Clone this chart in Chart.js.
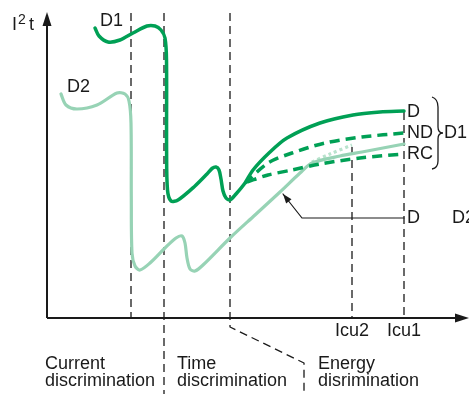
<!DOCTYPE html>
<html>
<head>
<meta charset="utf-8">
<script src="https://cdn.jsdelivr.net/npm/chart.js@4"></script>
<style>
html,body{margin:0;padding:0;background:#fff;}
#wrap{width:469px;height:394px;position:relative;}
</style>
</head>
<body>
<div id="wrap"><canvas id="c"></canvas></div>
<script>
// ---- data (schematic units: x = prospective current, y = I²t) ----
const d1Curve = [[48,290],[52,282],[61,276],[73,278],[86,285],[100,292],[108,292],[114,288],[118,280],[119.5,258],[119.6,168],[120.5,128],[124,117],[131,118],[148,132],[160,144],[165,149.5],[169,151],[172,148],[174,139],[176,127],[179,120],[183,118],[189,124],[198,135],[206,148],[223,166],[240,180],[273,195],[306,203],[333,206],[357,207]];
const d1ND = [[198,135],[221,155],[245,165],[278,175],[315,181],[357,185]];
const d1RC = [[200,136],[221,143],[245,148],[273,154],[313,160],[357,164]];
const d2Curve = [[14,224],[19,213],[30,209],[50,213],[70,225],[78,224],[82,217],[84,195],[84.3,120],[85,65],[88,52],[93,48],[103,55],[118,70],[129,80],[135,82],[138,75],[140,60],[143,49],[148,47],[156,53],[183,80],[208,103],[233,126],[253,145],[265,155],[293,162],[315,166],[357,174]];
const d2Dotted = [[265,156],[283,164],[305,173]];
const arrowPath = [[357,100],[255,100],[236,124]];
const boundaryX = [84,117,183];          // discrimination zone limits
const icuX = [305,357];                   // Icu2, Icu1
const icuTop = [171,206];
const icuLabels = ['Icu2','Icu1'];
const zoneLabels = [['Current','discrimination'],['Time','discrimination'],['Energy','disrimination']];
const zoneLabelX = [-2,130,271];
const curveLabelsD1 = ['D','ND','RC'];

const DARK = '#00a055', LIGHT = '#97d3b5', DOT = '#b9e3cd', INK = '#1a1a1a';
const toPts = a => a.map(p => ({x:p[0], y:p[1]}));

const lineDs = (data, color, width, extra) => Object.assign({
  data: toPts(data), showLine:true, borderColor:color, backgroundColor:color,
  borderWidth:width, pointRadius:0, fill:false, clip:false,
  tension:0.3, borderJoinStyle:'round', borderCapStyle:'round'
}, extra || {});

const dashed = {borderDash:[8,5], tension:0, borderCapStyle:'butt'};

const datasets = [
  lineDs(d1Curve, DARK, 3.5),
  lineDs(d1ND, DARK, 3.5, {borderDash:[10,6], borderCapStyle:'butt'}),
  lineDs(d1RC, DARK, 3.5, {borderDash:[10,6], borderCapStyle:'butt'}),
  lineDs(d2Curve, LIGHT, 3.2),
  lineDs(d2Dotted, DOT, 3.2, {borderDash:[3,3], borderCapStyle:'butt'}),
  lineDs(arrowPath, INK, 1.2, {tension:0, borderJoinStyle:'miter'}),
  lineDs([[boundaryX[0],305],[boundaryX[0],0]], INK, 1.3, dashed),
  lineDs([[boundaryX[1],305],[boundaryX[1],-76]], INK, 1.3, dashed),
  lineDs([[boundaryX[2],305],[boundaryX[2],-9],[257,-45],[257,-76]], INK, 1.3, dashed),
  lineDs([[icuX[0],icuTop[0]],[icuX[0],0]], INK, 1.3, dashed),
  lineDs([[icuX[1],icuTop[1]],[icuX[1],0]], INK, 1.3, dashed)
];

const decor = {
  id:'decor',
  afterDatasetsDraw(chart){
    const ctx = chart.ctx, xs = chart.scales.x, ys = chart.scales.y;
    const X = v => xs.getPixelForValue(v), Y = v => ys.getPixelForValue(v);
    ctx.save();
    ctx.fillStyle = INK; ctx.strokeStyle = INK;
    // axes
    ctx.lineWidth = 2;
    ctx.beginPath();
    ctx.moveTo(X(0), Y(0)); ctx.lineTo(X(0), Y(296));
    ctx.moveTo(X(0), Y(0)); ctx.lineTo(X(411), Y(0));
    ctx.stroke();
    ctx.beginPath(); // y arrow
    ctx.moveTo(X(0), Y(306)); ctx.lineTo(X(0)-4.5, Y(292)); ctx.lineTo(X(0)+4.5, Y(292)); ctx.closePath(); ctx.fill();
    ctx.beginPath(); // x arrow
    ctx.moveTo(X(422), Y(0)); ctx.lineTo(X(408), Y(0)-4.5); ctx.lineTo(X(408), Y(0)+4.5); ctx.closePath(); ctx.fill();
    // annotation arrowhead
    const a = arrowPath[arrowPath.length-1], b = arrowPath[arrowPath.length-2];
    const ax = X(a[0]), ay = Y(a[1]), bx = X(b[0]), by = Y(b[1]);
    const ang = Math.atan2(ay-by, ax-bx);
    ctx.beginPath();
    ctx.moveTo(ax, ay);
    ctx.lineTo(ax - 10*Math.cos(ang-0.35), ay - 10*Math.sin(ang-0.35));
    ctx.lineTo(ax - 10*Math.cos(ang+0.35), ay - 10*Math.sin(ang+0.35));
    ctx.closePath(); ctx.fill();
    // brace
    ctx.lineWidth = 1.3;
    const bl = X(385), bm = X(391), bt = X(396);
    ctx.beginPath();
    ctx.moveTo(bl, Y(221));
    ctx.quadraticCurveTo(bm, Y(219), bm, Y(211));
    ctx.lineTo(bm, Y(191));
    ctx.quadraticCurveTo(bm, Y(185), bt, Y(185));
    ctx.quadraticCurveTo(bm, Y(185), bm, Y(179));
    ctx.lineTo(bm, Y(157));
    ctx.quadraticCurveTo(bm, Y(150), bl, Y(149));
    ctx.stroke();
    // texts
    ctx.textBaseline = 'middle';
    ctx.textAlign = 'left';
    ctx.font = '18px "Liberation Sans", Arial, sans-serif';
    ctx.fillText('D1', X(53), Y(297));
    ctx.fillText('D2', X(20), Y(231));
    curveLabelsD1.forEach((t,i) => ctx.fillText(t, X(360), Y([206,185,164][i])));
    ctx.fillText('D1', X(397), Y(185));
    ctx.fillText('D', X(360), Y(100));
    ctx.fillText('D2', X(405), Y(100));
    // I²t
    ctx.fillText('I', X(-35), Y(293));
    ctx.fillText('t', X(-18), Y(293));
    ctx.font = '14px "Liberation Sans", Arial, sans-serif';
    ctx.fillText('2', X(-29), Y(298));
    ctx.font = '18px "Liberation Sans", Arial, sans-serif';
    ctx.textAlign = 'center';
    icuLabels.forEach((t,i) => ctx.fillText(t, X(icuX[i]), Y(-13)));
    ctx.textAlign = 'left';
    zoneLabels.forEach((lines,i) => {
      ctx.fillText(lines[0], X(zoneLabelX[i]), Y(-46));
      ctx.fillText(lines[1], X(zoneLabelX[i]), Y(-63));
    });
    ctx.restore();
  }
};

new Chart(document.getElementById('c'), {
  type:'scatter',
  data:{datasets},
  options:{
    responsive:true, maintainAspectRatio:false, animation:false,
    layout:{padding:{left:47, top:10, right:2, bottom:76}},
    scales:{
      x:{type:'linear', min:0, max:420, display:false},
      y:{type:'linear', min:0, max:308, display:false}
    },
    plugins:{legend:{display:false}, tooltip:{enabled:false}}
  },
  plugins:[decor]
});
</script>
</body>
</html>
